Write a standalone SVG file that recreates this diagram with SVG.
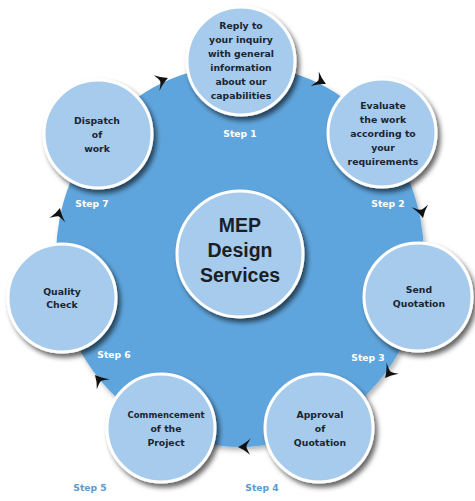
<svg xmlns="http://www.w3.org/2000/svg" width="475" height="501" viewBox="0 0 475 501">
<defs>
<filter id="sh" x="-30%" y="-30%" width="160%" height="160%">
<feDropShadow dx="3" dy="4" stdDeviation="2.5" flood-color="#000" flood-opacity="0.6"/>
</filter>
<filter id="shb" x="-10%" y="-10%" width="120%" height="120%">
<feDropShadow dx="2" dy="3" stdDeviation="2.5" flood-color="#000" flood-opacity="0.3"/>
</filter>
<path id="arr" d="M0,0 Q-6,-2.5 -12,-8 Q-8.5,-2 -8.5,0 Q-8.5,2 -13,8.5 Q-6,2.5 0,0 Z"/>
</defs>
<style>
.big{fill:#5fa5dd;}
.node{fill:#a6cbec;stroke:#ffffff;stroke-width:3;filter:url(#sh);}
.t{font-family:"DejaVu Sans",Verdana,sans-serif;font-weight:bold;font-size:9.3px;fill:#1b2533;text-anchor:middle;}
.s{font-family:"DejaVu Sans",Verdana,sans-serif;font-weight:bold;font-size:9.2px;fill:#ffffff;text-anchor:middle;}
.so{fill:#5a9bd2;}
.c{font-family:"Liberation Sans",Arial,sans-serif;font-weight:bold;font-size:19.5px;fill:#1a1f26;text-anchor:middle;}
.a{fill:#111111;}
</style>
<rect width="475" height="501" fill="#ffffff"/>
<ellipse class="big" cx="240" cy="256" rx="184" ry="191" filter="url(#shb)"/>

<g id="connectors">
<use href="#arr" class="a" transform="translate(168,78) rotate(-23)"/>
<use href="#arr" class="a" transform="translate(326,84) rotate(26)"/>
<use href="#arr" class="a" transform="translate(423,218) rotate(77)"/>
<use href="#arr" class="a" transform="translate(385,378) rotate(129)"/>
<use href="#arr" class="a" transform="translate(238,447) rotate(179)"/>
<use href="#arr" class="a" transform="translate(95,375) rotate(229)"/>
<use href="#arr" class="a" transform="translate(60,208) rotate(283)"/>
</g>

<g id="labels">
<text class="s" x="240" y="137">Step 1</text>
<text class="s" x="388" y="207">Step 2</text>
<text class="s" x="368" y="361">Step 3</text>
<text class="s so" x="262" y="491">Step 4</text>
<text class="s so" x="90" y="491">Step 5</text>
<text class="s" x="114" y="358">Step 6</text>
<text class="s" x="92" y="207">Step 7</text>
</g>

<g id="center">
<circle class="node" cx="240" cy="254" r="63"/>
<text class="c" x="240" y="232">MEP</text>
<text class="c" x="240" y="257">Design</text>
<text class="c" x="240" y="282">Services</text>
</g>

<g id="step1">
<circle class="node" cx="241" cy="61" r="54"/>
<text class="t" x="241" y="29">Reply to</text>
<text class="t" x="241" y="43">your inquiry</text>
<text class="t" x="241" y="57">with general</text>
<text class="t" x="241" y="71">information</text>
<text class="t" x="241" y="85">about our</text>
<text class="t" x="241" y="99">capabilities</text>
</g>

<g id="step2">
<circle class="node" cx="382" cy="133" r="54"/>
<text class="t" x="383" y="108.5">Evaluate</text>
<text class="t" x="383" y="122.5">the work</text>
<text class="t" x="383" y="136.5">according to</text>
<text class="t" x="383" y="150.5">your</text>
<text class="t" x="383" y="164.5">requirements</text>
</g>

<g id="step3">
<circle class="node" cx="418" cy="297" r="54"/>
<text class="t" x="419" y="292.5">Send</text>
<text class="t" x="419" y="306.5">Quotation</text>
</g>

<g id="step4">
<circle class="node" cx="319" cy="428" r="54"/>
<text class="t" x="320" y="417.5">Approval</text>
<text class="t" x="320" y="431.5">of</text>
<text class="t" x="320" y="445.5">Quotation</text>
</g>

<g id="step5">
<circle class="node" cx="161" cy="428" r="54"/>
<text class="t" x="166" y="417.5" textLength="77" lengthAdjust="spacingAndGlyphs">Commencement</text>
<text class="t" x="166" y="431.5">of the</text>
<text class="t" x="166" y="445.5">Project</text>
</g>

<g id="step6">
<circle class="node" cx="62" cy="298" r="54"/>
<text class="t" x="62" y="294.5">Quality</text>
<text class="t" x="62" y="308">Check</text>
</g>

<g id="step7">
<circle class="node" cx="98" cy="134" r="54"/>
<text class="t" x="97" y="123.5">Dispatch</text>
<text class="t" x="97" y="137.5">of</text>
<text class="t" x="97" y="151.5">work</text>
</g>
</svg>
